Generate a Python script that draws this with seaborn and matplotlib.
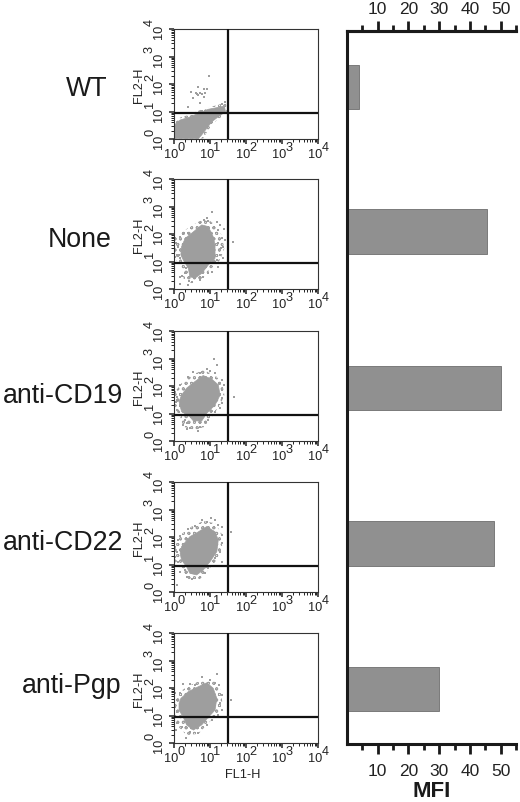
import numpy as np
import pandas as pd
import seaborn as sns
import matplotlib.pyplot as plt
from matplotlib.ticker import LogLocator, NullFormatter

sns.set_style("white")
plt.rcParams['font.family'] = ['Liberation Sans', 'DejaVu Sans']
plt.rcParams['hatch.linewidth'] = 0.6

samples = ['WT', 'None', 'anti-CD19', 'anti-CD22', 'anti-Pgp']
mfi = [4, 45.7, 50, 48, 30]
mfi_ticks = [10, 20, 30, 40, 50]
exponents = [0, 1, 2, 3, 4]

# gates, in decades
gate_fl1 = 1.5
gate_fl2 = 0.945

# dense part of each dot plot, outline read in decades (log10 of FL1, FL2)
wt_fl1 = [.01, .01, .17, .40, .68, .95, 1.23, 1.40, 1.43, 1.23, 1.05, .91, .77, .68]
wt_fl2 = [.02, .51, .69, .78, .93, 1.08, 1.15, 1.20, .99, .81, .63, .39, .15, .02]
none_fl1 = [.21, .31, .54, .77, .95, 1.09, 1.14, 1.14, .95, .77, .58, .44, .40, .26, .19]
none_fl2 = [1.54, 1.84, 2.08, 2.33, 2.27, 1.90, 1.60, 1.12, .87, .57, .39, .45, .75, 1.05, 1.24]
cd19_fl1 = [.21, .35, .58, .81, 1.05, 1.23, 1.28, 1.14, .91, .77, .54, .44, .21, .14]
cd19_fl2 = [1.67, 1.92, 2.16, 2.38, 2.25, 2.04, 1.67, 1.31, 1.01, .73, .73, .88, 1.07, 1.43]
cd22_fl1 = [.21, .44, .68, .91, 1.14, 1.23, 1.19, 1.0, .81, .63, .44, .35, .21, .17]
cd22_fl2 = [1.65, 2.01, 2.19, 2.38, 2.19, 1.89, 1.47, 1.10, .80, .62, .68, .92, 1.16, 1.41]
pgp_fl1 = [.19, .40, .68, .91, 1.09, 1.19, 1.14, .95, .77, .54, .35, .26, .14, .14]
pgp_fl2 = [1.62, 1.87, 2.05, 2.19, 1.99, 1.62, 1.20, .93, .66, .47, .66, .93, 1.20, 1.44]

# sparser zone around the dense part
wt_halo_fl1 = [.01, 0, .17, .40, .68, .95, 1.23, 1.44, 1.47, 1.32, 1.14, .95, .81]
wt_halo_fl2 = [.02, .57, .78, .87, 1.03, 1.15, 1.24, 1.36, .99, .81, .63, .33, .02]
none_halo_fl1 = [.03, .31, .68, .91, 1.14, 1.32, 1.40, 1.28, 1.0, .77, .49, .26, .21, .03, .01]
none_halo_fl2 = [1.84, 2.15, 2.45, 2.57, 2.33, 1.96, 1.48, 1.06, .69, .36, .21, .39, .75, 1.12, 1.48]
cd19_halo_fl1 = [.03, .21, .49, .81, 1.14, 1.34, 1.40, 1.28, 1.05, .86, .58, .26, .17, .03, .01]
cd19_halo_fl2 = [1.79, 2.10, 2.40, 2.58, 2.40, 2.10, 1.67, 1.31, .88, .52, .40, .52, .88, 1.19, 1.55]
cd22_halo_fl1 = [.03, .17, .49, .81, 1.14, 1.32, 1.34, 1.19, .95, .72, .40, .21, .03, 0]
cd22_halo_fl2 = [1.71, 2.07, 2.38, 2.58, 2.50, 2.13, 1.59, 1.16, .80, .47, .47, .80, 1.10, 1.41]
pgp_halo_fl1 = [.01, .17, .40, .77, 1.14, 1.32, 1.34, 1.23, .95, .68, .35, .12, .01, 0]
pgp_halo_fl2 = [1.62, 1.87, 2.07, 2.29, 2.29, 1.87, 1.44, 1.08, .72, .33, .29, .59, 1.02, 1.32]

# single events outside the dense part
wt_dots_fl1 = [.98, .66, .47, .84, .91, .60, .72, .79, .86, .84, .54, .72, .38, .63, .68, .77, 1.43, 1.34]
wt_dots_fl2 = [2.30, 1.90, 1.72, 1.82, 1.81, 1.66, 1.69, 1.64, 1.66, 1.54, 1.48, 1.30, 1.18, 1.63, 1.60, 1.03, 1.33, 1.26]
none_dots_fl1 = [1.05, .91, .95, .84, 1.19, 1.28, 1.40, 1.23, 1.32, 1.42, 1.63, 1.23, 1.31, 1.37, 1.28, 1.37,
                 1.19, 1.23, 1.05, .94, .17, .03, .40, .26, .05, .10, .01, .07, .17, .03, .14, .17, .21, .17,
                 .40, .42, .31, .32, .49, .72, .81, .98, 1.14]
none_dots_fl2 = [2.79, 2.57, 2.47, 2.51, 2.45, 2.33, 2.18, 2.15, 1.84, 1.78, 1.70, 1.66, 1.48, 1.54, 1.24, 1.12,
                 1.06, .81, .63, .57, 1.90, 1.87, 2.03, 2.03, 1.66, 1.54, 1.42, 1.24, 1.12, 1.18, 1.24, .45, .49, .17,
                 .15, .29, .57, .75, .24, .33, .45, .97, .97]
cd19_dots_fl1 = [1.11, 1.19, .91, 1.0, 1.14, .40, .54, .72, 1.32, 1.28, 1.40, 1.34, 1.34, 1.67, 1.32, 1.28, 1.14,
                 .17, .03, .07, .05, .07, .14, .31, .35, .44, .35, .72, .68, .26, .86, .95]
cd19_dots_fl2 = [2.98, 2.76, 2.62, 2.55, 2.46, 2.34, 2.52, 2.46, 2.22, 2.10, 2.04, 1.85, 1.55, 1.61, 1.37, 1.19, 1.07,
                 2.04, 1.77, 1.61, 1.43, 1.13, 1.04, .76, .64, .46, .44, .52, .36, .58, .70, .76]
cd22_dots_fl1 = [.77, 1.02, 1.14, .91, .58, .40, 1.23, 1.34, 1.32, 1.58, 1.32, 1.28, 1.32, 1.14, .17, .12, .03, .07,
                 .03, .12, .17, .07, .31, .35, .49, .86, .95]
cd22_dots_fl2 = [2.62, 2.68, 2.62, 2.56, 2.41, 2.29, 2.44, 2.38, 2.07, 2.19, 1.77, 1.47, 1.10, 1.22, 2.05, 1.89, 1.65, 1.47,
                 1.29, 1.10, .74, .25, .80, .56, .47, .68, .86]
pgp_dots_fl1 = [1.19, .77, 1.0, 1.14, 1.25, .44, .26, .58, .17, .03, .07, .03, .07, 1.32, 1.28, 1.58, 1.34, 1.23,
                .07, .05, .21, .32, .44, .68, .91, 1.05]
pgp_dots_fl2 = [2.51, 2.41, 2.29, 2.19, 2.11, 2.15, 2.15, 2.11, 1.83, 1.81, 1.56, 1.32, 1.14, 1.75, 1.44, 1.56, 1.20, 1.02,
                .72, .47, .59, .17, .41, .38, .65, .84]

clouds = [(wt_fl1, wt_fl2), (none_fl1, none_fl2), (cd19_fl1, cd19_fl2), (cd22_fl1, cd22_fl2), (pgp_fl1, pgp_fl2)]
halos = [(wt_halo_fl1, wt_halo_fl2), (none_halo_fl1, none_halo_fl2), (cd19_halo_fl1, cd19_halo_fl2),
         (cd22_halo_fl1, cd22_halo_fl2), (pgp_halo_fl1, pgp_halo_fl2)]
dots = [(wt_dots_fl1, wt_dots_fl2), (none_dots_fl1, none_dots_fl2), (cd19_dots_fl1, cd19_dots_fl2),
        (cd22_dots_fl1, cd22_dots_fl2), (pgp_dots_fl1, pgp_dots_fl2)]

W, H = 520, 802
fig = plt.figure(figsize=(W / 100, H / 100), dpi=100)


def axes_px(left, top, right, bottom):
    return fig.add_axes([left / W, 1 - bottom / H, (right - left) / W, (bottom - top) / H])


dot_grey = '#9e9e9e'
tick_font = 9.2
panel_bottoms = [139, 289, 441, 592, 743]
label_centres = [(87, 89), (80, 240), (63, 396), (63, 543), (72, 686)]

for i, bottom in enumerate(panel_bottoms):
    ax = axes_px(174, bottom - 110, 318, bottom)
    ax.set_xscale('log')
    ax.set_yscale('log')

    # stippled fringe instead of a flat band, reads like loose dots
    ax.fill(10 ** np.array(halos[i][0]), 10 ** np.array(halos[i][1]), facecolor='none', edgecolor=dot_grey,
            hatch='ooo', lw=0, zorder=1)
    ax.fill(10 ** np.array(clouds[i][0]), 10 ** np.array(clouds[i][1]), color=dot_grey, lw=0.5, zorder=2)
    df = pd.DataFrame({'fl1': 10 ** np.array(dots[i][0]), 'fl2': 10 ** np.array(dots[i][1])})
    sns.scatterplot(data=df, x='fl1', y='fl2', ax=ax, marker='s', s=3, color=dot_grey, linewidth=0, zorder=2)

    ax.axvline(10 ** gate_fl1, color='#111111', lw=1.6, zorder=3)
    ax.axhline(10 ** gate_fl2, color='#111111', lw=1.6, zorder=3)

    ax.set_xlabel('')
    ax.set_ylabel('')
    ax.set_xticks([10.0 ** e for e in exponents])
    ax.set_yticks([10.0 ** e for e in exponents])
    ax.set_xticklabels([])
    ax.set_yticklabels([])
    for axis in [ax.xaxis, ax.yaxis]:
        axis.set_minor_locator(LogLocator(base=10, subs=range(2, 10), numticks=12))
        axis.set_minor_formatter(NullFormatter())
    ax.set_xlim(1, 1e4)
    ax.set_ylim(1, 1e4)
    ax.tick_params(which='major', bottom=True, left=True, length=3.5, width=1.1, color='#222222')
    ax.tick_params(which='minor', bottom=True, left=True, length=2, width=0.7, color='#222222')
    for s in ax.spines.values():
        s.set_visible(True)
        s.set_color('#333333')
        s.set_linewidth(0.8)

    # tick labels: base and exponent nearly the same size in the original
    for e in exponents:
        ax.annotate('10', xy=(10.0 ** e, 0), xycoords=('data', 'axes fraction'), xytext=(-3, -16),
                    textcoords='offset pixels', ha='center', va='center', fontsize=tick_font, color='#222222')
        ax.annotate(str(e), xy=(10.0 ** e, 0), xycoords=('data', 'axes fraction'), xytext=(7, -9),
                    textcoords='offset pixels', ha='center', va='center', fontsize=tick_font, color='#222222')
        ax.annotate('10', xy=(0, 10.0 ** e), xycoords=('axes fraction', 'data'), xytext=(-15, -3),
                    textcoords='offset pixels', ha='center', va='center', rotation=90, fontsize=tick_font, color='#222222')
        ax.annotate(str(e), xy=(0, 10.0 ** e), xycoords=('axes fraction', 'data'), xytext=(-24, 7),
                    textcoords='offset pixels', ha='center', va='center', rotation=90, fontsize=tick_font, color='#222222')

    fig.text(139 / W, 1 - (bottom - 54) / H, 'FL2-H', rotation=90, ha='center', va='center',
             fontsize=tick_font, color='#222222')
    cx, cy = label_centres[i]
    fig.text(cx / W, 1 - cy / H, samples[i], ha='center', va='center', fontsize=19.3, color='#1a1a1a')

fig.text(243 / W, 1 - 775 / H, 'FL1-H', ha='center', va='center', fontsize=tick_font, color='#222222')

# bar panel, y axis is just the vertical placement of each row
bar_rows = [87, 231.5, 388, 543.5, 689]
bar_df = pd.DataFrame({'row': bar_rows, 'mfi': mfi})
ax = axes_px(347, 31, 516, 744)
sns.barplot(data=bar_df, x='mfi', y='row', orient='y', native_scale=True, width=0.308,
            color='#909090', saturation=1, edgecolor='#7a7a7a', linewidth=0.7, ax=ax)
ax.set_xlim(0, 55)
ax.set_ylim(744, 31)
ax.set_yticks([])
ax.set_xlabel('')
ax.set_ylabel('')
ax.spines['right'].set_visible(False)
for name in ['left', 'top', 'bottom']:
    ax.spines[name].set_visible(True)
    ax.spines[name].set_color('#1a1a1a')
    ax.spines[name].set_linewidth(2.2)
minor_ticks = [5, 15, 25, 35, 45, 55]
ax.set_xticks(mfi_ticks)
ax.set_xticks(minor_ticks, minor=True)
ax.tick_params(axis='x', which='major', bottom=True, length=7.5, width=2, color='#1a1a1a',
               labelsize=12.5, pad=7, labelcolor='#222222')
ax.tick_params(axis='x', which='minor', bottom=True, length=4.5, width=2, color='#1a1a1a')

top = ax.secondary_xaxis('top')
top.set_xticks(mfi_ticks)
top.set_xticks(minor_ticks, minor=True)
top.tick_params(axis='x', which='major', top=True, length=7.5, width=2, color='#1a1a1a',
                labelsize=12.5, pad=2.5, labelcolor='#222222')
top.tick_params(axis='x', which='minor', top=True, length=4.5, width=2, color='#1a1a1a')
top.spines['top'].set_linewidth(2.2)
top.spines['top'].set_color('#1a1a1a')

fig.text(432 / W, 1 - 791.5 / H, 'MFI', ha='center', va='center', fontsize=16, fontweight='bold', color='#1a1a1a')

fig.savefig('out.png', dpi=100)
